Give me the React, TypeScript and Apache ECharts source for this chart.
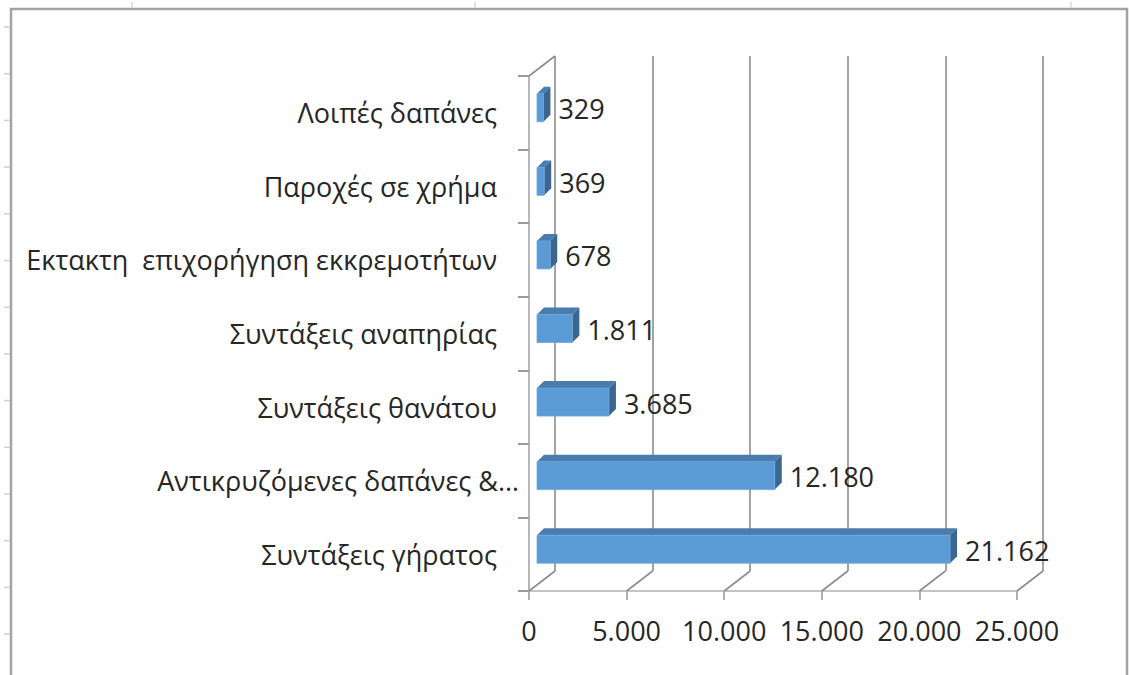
import React, { useEffect, useRef } from 'react';
import * as echarts from 'echarts';

const categories = [
  'Λοιπές δαπάνες',
  'Παροχές σε χρήμα',
  'Εκτακτη  επιχορήγηση εκκρεμοτήτων',
  'Συντάξεις αναπηρίας',
  'Συντάξεις θανάτου',
  'Αντικρυζόμενες δαπάνες &…',
  'Συντάξεις γήρατος',
];
const values = [329, 369, 678, 1811, 3685, 12180, 21162];
const xTicks = [0, 5000, 10000, 15000, 20000, 25000];
const xMin = 0;
const xMax = 25000;
const xInterval = 5000;

const FONT = '"Open Sans", "Noto Sans", sans-serif';
const FS = 27;
const TEXT = '#262626';
const fmt = (n: number) => String(n).replace(/\B(?=(\d{3})+(?!\d))/g, '.');

// 3D geometry (pixels)
const DEPTH = [26, -20];
const BAR_FRONT = [8, -5];
const BAR_DEPTH = [7, -7];
const BAR_RATIO = 0.38;

export default function App() {
  const ref = useRef<HTMLDivElement>(null);
  useEffect(() => {
    const chart = echarts.init(ref.current!, null, { renderer: 'svg' });
    const leftTicks: any[] = [];
    for (let i = 0; i < 14; i++) {
      const y = 27 + i * 46.7;
      leftTicks.push({
        type: 'line',
        shape: { x1: 4, y1: y, x2: 10, y2: y },
        style: { stroke: '#d0d0d0', lineWidth: 1.5 },
      });
    }
    [132, 475, 1071].forEach((x) =>
      leftTicks.push({
        type: 'line',
        shape: { x1: x, y1: 2, x2: x, y2: 8 },
        style: { stroke: '#d6d6d6', lineWidth: 1.5 },
      })
    );
    const option: any = {
      animation: false,
      backgroundColor: '#ffffff',
      graphic: [
        {
          type: 'polyline',
          shape: { points: [[11, 690], [11, 9], [1127, 9], [1127, 690]] },
          style: { stroke: '#a3a3a3', lineWidth: 2.5, fill: 'none' },
        },
        ...leftTicks,
      ],
      grid: [
        { left: 529, top: 76, width: 488, height: 515 },
        { left: 529 + DEPTH[0], top: 76 + DEPTH[1], width: 488, height: 515 },
      ],
      xAxis: [
        {
          type: 'value',
          gridIndex: 0,
          min: xMin,
          max: xMax,
          interval: xInterval,
          axisLine: { show: true, lineStyle: { color: '#c4c4c4', width: 2 } },
          axisTick: { show: true, length: 9, lineStyle: { color: '#b0b0b0', width: 2 } },
          splitLine: { show: false },
          axisLabel: {
            formatter: (v: number) => fmt(v),
            color: TEXT,
            fontFamily: FONT,
            fontSize: FS,
            margin: 26,
          },
        },
        {
          type: 'value',
          gridIndex: 1,
          min: xMin,
          max: xMax,
          interval: xInterval,
          axisLine: { show: false },
          axisTick: { show: false },
          axisLabel: { show: false },
          splitLine: { show: true, lineStyle: { color: '#8c8c8c', width: 1.6 } },
        },
      ],
      yAxis: [
        {
          type: 'category',
          gridIndex: 0,
          data: categories,
          inverse: true,
          axisLine: { show: true, lineStyle: { color: '#b8b8b8', width: 2 } },
          axisTick: { show: true, length: 11, lineStyle: { color: '#9a9a9a', width: 2 } },
          splitLine: { show: false },
          axisLabel: {
            margin: 10,
            color: TEXT,
            fontFamily: FONT,
            fontSize: FS,
            formatter: (v: string) => (v.endsWith('…') ? `{l|${v}}` : `{n|${v}}`),
            rich: {
              n: { padding: [0, 22, 0, 0], color: TEXT, fontFamily: FONT, fontSize: FS },
              l: { color: TEXT, fontFamily: FONT, fontSize: FS },
            },
          },
        },
        {
          type: 'category',
          gridIndex: 1,
          data: categories,
          inverse: true,
          show: false,
        },
      ],
      series: [
        {
          type: 'custom',
          name: 'frame',
          xAxisIndex: 0,
          yAxisIndex: 0,
          data: xTicks.map((t) => [t, 0]),
          encode: { x: 0, y: 1 },
          silent: true,
          renderItem: (params: any, api: any) => {
            const v = api.value(0);
            const band = api.size([0, 1])[1];
            const top = api.coord([v, 0]);
            const bot = api.coord([v, categories.length - 1]);
            const x = top[0];
            const yb = bot[1] + band / 2;
            const yt = top[1] - band / 2;
            const children: any[] = [
              {
                type: 'line',
                shape: { x1: x, y1: yb, x2: x + DEPTH[0], y2: yb + DEPTH[1] },
                style: { stroke: '#8c8c8c', lineWidth: 1.6 },
              },
            ];
            if (v === xMin) {
              children.push({
                type: 'line',
                shape: { x1: x, y1: yt, x2: x + DEPTH[0], y2: yt + DEPTH[1] },
                style: { stroke: '#8c8c8c', lineWidth: 1.6 },
              });
            }
            return { type: 'group', children };
          },
          z: 1,
        },
        {
          type: 'custom',
          name: 'bars',
          xAxisIndex: 0,
          yAxisIndex: 0,
          data: values.map((v, i) => [v, i]),
          encode: { x: 0, y: 1 },
          renderItem: (params: any, api: any) => {
            const v = api.value(0);
            const c = api.value(1);
            const band = api.size([0, 1])[1];
            const p0 = api.coord([0, c]);
            const p1 = api.coord([v, c]);
            const h = band * BAR_RATIO;
            const xl = p0[0] + BAR_FRONT[0];
            const xr = p1[0] + BAR_FRONT[0];
            const yc = p0[1] + BAR_FRONT[1];
            const yt = yc - h / 2;
            const yb = yc + h / 2;
            const dx = BAR_DEPTH[0];
            const dy = BAR_DEPTH[1];
            return {
              type: 'group',
              children: [
                {
                  type: 'polygon',
                  shape: { points: [[xl, yt], [xr, yt], [xr + dx, yt + dy], [xl + dx, yt + dy]] },
                  style: { fill: '#4A7DAE' },
                },
                {
                  type: 'polygon',
                  shape: { points: [[xr, yt], [xr + dx, yt + dy], [xr + dx, yb + dy], [xr, yb]] },
                  style: { fill: '#3A6690' },
                },
                {
                  type: 'rect',
                  shape: { x: xl, y: yt, width: xr - xl, height: h },
                  style: { fill: '#5B9BD5', stroke: '#6aa6dc', lineWidth: 0.8 },
                },
                {
                  type: 'text',
                  style: {
                    text: fmt(v),
                    x: xr + dx + 8,
                    y: yc + 1,
                    verticalAlign: 'middle',
                    align: 'left',
                    fill: TEXT,
                    fontFamily: FONT,
                    fontSize: FS,
                  },
                },
              ],
            };
          },
          z: 3,
        },
      ],
    };
    chart.setOption(option);
    return () => chart.dispose();
  }, []);
  return (
    <div
      ref={ref}
      style={{ position: 'absolute', left: 0, top: 0, width: 1129, height: 675, background: '#fff' }}
    />
  );
}
